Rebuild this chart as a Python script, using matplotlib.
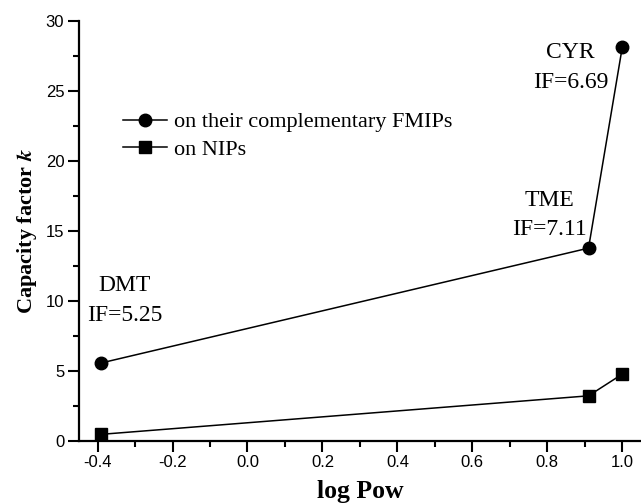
import matplotlib
matplotlib.use("Agg")
import matplotlib.pyplot as plt
from matplotlib.ticker import MultipleLocator

plt.rcParams['mathtext.fontset'] = 'stix'

x_vals = [-0.39, 0.91, 1.0]
fmip_k = [5.55, 13.75, 28.1]
nip_k = [0.45, 3.2, 4.75]
names = ["DMT", "TME", "CYR"]
ifs = ["IF=5.25", "IF=7.11", "IF=6.69"]
label_x = [-0.328, 0.805, 0.862]
name_y = [11.1, 17.15, 27.75]
if_y = [8.95, 15.1, 25.6]

fig = plt.figure(figsize=(6.41, 5.03), dpi=100)
ax = fig.add_axes([0.123, 0.124, 0.877, 0.835])

ax.plot(x_vals, fmip_k, '-o', color='black', lw=1.1, markersize=9,
        label='on their complementary FMIPs')
ax.plot(x_vals, nip_k, '-s', color='black', lw=1.1, markersize=9,
        label='on NIPs')

for n, f, tx, ny, fy in zip(names, ifs, label_x, name_y, if_y):
    ax.text(tx, ny, n, ha='center', va='center', family='Liberation Serif',
            fontsize=17)
    ax.text(tx, fy, f, ha='center', va='center', family='Liberation Serif',
            fontsize=17)

ax.set_xlim(-0.45, 1.05)
ax.set_ylim(0, 30)
ax.xaxis.set_major_locator(MultipleLocator(0.2))
ax.xaxis.set_minor_locator(MultipleLocator(0.1))
ax.yaxis.set_major_locator(MultipleLocator(5))
ax.yaxis.set_minor_locator(MultipleLocator(2.5))
ax.set_xticks([-0.4, -0.2, 0.0, 0.2, 0.4, 0.6, 0.8, 1.0])
ax.set_xticklabels(['-0.4', '-0.2', '0.0', '0.2', '0.4', '0.6', '0.8', '1.0'])

for s in ['top', 'right']:
    ax.spines[s].set_visible(False)
for s in ['left', 'bottom']:
    ax.spines[s].set_linewidth(1.6)

ax.tick_params(which='major', direction='out', length=8, width=1.5,
               labelsize=12, pad=2.5)
ax.tick_params(which='minor', direction='out', length=4.5, width=1.5)
for lab in ax.get_xticklabels() + ax.get_yticklabels():
    lab.set_family('Liberation Sans')

ax.set_xlabel('log Pow', family='Liberation Serif', fontsize=18.5,
              fontweight='bold', labelpad=7)
ax.set_ylabel(r'Capacity factor $\boldsymbol{k}$', family='Liberation Serif',
              fontsize=16, fontweight='bold', labelpad=5)

ax.legend(loc='upper left', bbox_to_anchor=(0.078, 0.783), frameon=False,
          prop={'family': 'Liberation Serif', 'size': 16},
          handlelength=2.0, handletextpad=0.3, labelspacing=0.3,
          borderaxespad=0, borderpad=0)

fig.savefig('out.png', dpi=100)
